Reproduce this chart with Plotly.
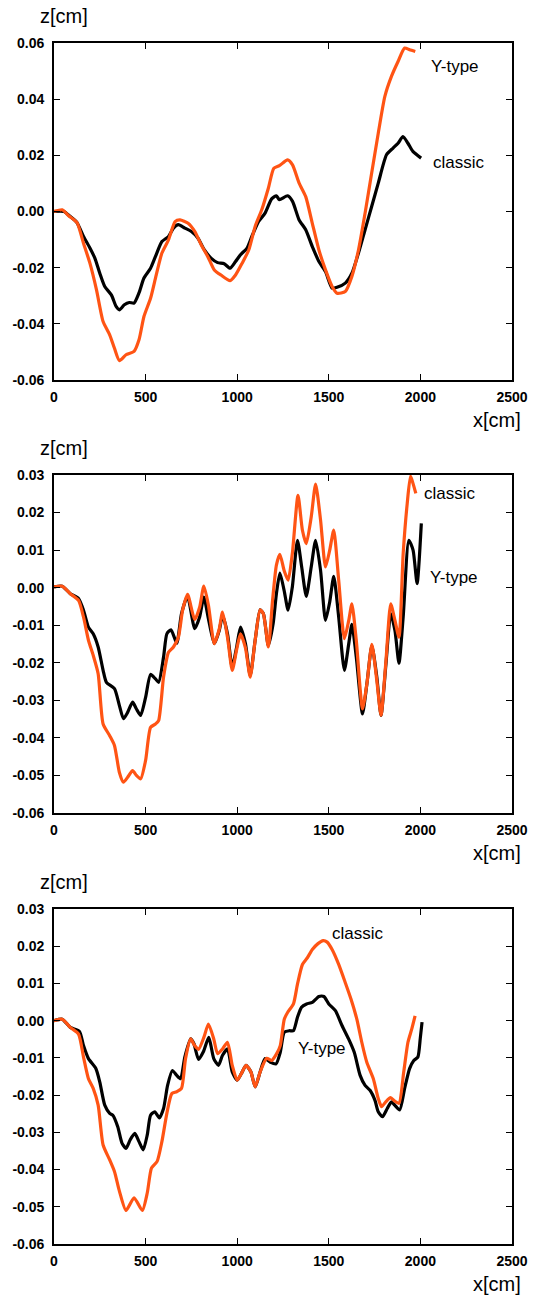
import plotly.graph_objects as go

# ---------------- data ----------------
x_tick_vals = [0, 500, 1000, 1500, 2000, 2500]
x_tick_text = ["0", "500", "1000", "1500", "2000", "2500"]
y1_tick_vals = [-0.06, -0.04, -0.02, 0.0, 0.02, 0.04, 0.06]
y1_tick_text = ["-0.06", "-0.04", "-0.02", "0.00", "0.02", "0.04", "0.06"]
y23_tick_vals = [-0.06, -0.05, -0.04, -0.03, -0.02, -0.01, 0.0, 0.01, 0.02, 0.03]
y23_tick_text = ["-0.06", "-0.05", "-0.04", "-0.03", "-0.02", "-0.01", "0.00", "0.01", "0.02", "0.03"]

# Panel 1: black = "classic", orange = "Y-type"
p1_black_x = [0, 54, 89, 125, 161, 196, 223, 250, 277, 313,
              339, 357, 384, 411, 437, 464, 491, 527, 554, 589,
              625, 652, 679, 714, 750, 786, 821, 857, 893, 929,
              961, 991, 1018, 1054, 1080, 1116, 1152, 1188, 1214, 1230,
              1275, 1302, 1338, 1374, 1410, 1446, 1482, 1518, 1545, 1590,
              1626, 1662, 1698, 1734, 1770, 1815, 1851, 1878, 1905, 1932,
              1959, 2004]
p1_black_z = [0, 0, -0.0018, -0.0039, -0.0089, -0.013, -0.0166, -0.022, -0.0267, -0.0297,
              -0.0338, -0.035, -0.0332, -0.0324, -0.0326, -0.029, -0.0237, -0.0202, -0.016, -0.0107,
              -0.0089, -0.0059, -0.0047, -0.0059, -0.0071, -0.0095, -0.0137, -0.0166, -0.0182, -0.0186,
              -0.0202, -0.0178, -0.0154, -0.013, -0.0089, -0.0036, -0.0006, 0.0045, 0.0056, 0.0042,
              0.0056, 0.0036, -0.003, -0.0065, -0.0125, -0.0178, -0.0214, -0.0273, -0.027, -0.0255,
              -0.022, -0.0148, -0.0065, 0.0018, 0.0101, 0.0202, 0.0226, 0.0243, 0.0267, 0.0243,
              0.0214, 0.019]
p1_orange_x = [0, 45, 80, 125, 161, 196, 232, 268, 304, 330,
               357, 393, 437, 464, 491, 527, 554, 589, 625, 661,
               688, 732, 768, 804, 839, 875, 911, 961, 991, 1027,
               1063, 1098, 1134, 1170, 1200, 1230, 1275, 1302, 1338, 1374,
               1410, 1446, 1482, 1518, 1545, 1590, 1626, 1662, 1698, 1734,
               1770, 1806, 1842, 1878, 1914, 1941, 1972]
p1_orange_z = [0, 0.0006, -0.0015, -0.0039, -0.0113, -0.0184, -0.0279, -0.0392, -0.0439, -0.0487,
               -0.0531, -0.051, -0.0498, -0.0457, -0.0374, -0.0309, -0.0237, -0.0148, -0.0101, -0.0036,
               -0.003, -0.0042, -0.0071, -0.0119, -0.016, -0.0208, -0.0226, -0.0246, -0.0226, -0.0184,
               -0.0137, -0.0053, 0.0006, 0.0083, 0.0154, 0.0163, 0.0184, 0.0166, 0.0101, 0.0053,
               -0.0042, -0.0137, -0.0208, -0.0267, -0.0291, -0.0285, -0.0231, -0.0137, -0.0006, 0.0137,
               0.0279, 0.041, 0.0481, 0.0534, 0.0582, 0.0576, 0.057]

# Panel 2: black = "Y-type", orange = "classic"
p2_black_x = [0, 45, 89, 134, 161, 188, 214, 241, 268, 286,
              330, 357, 379, 402, 429, 450, 473, 500, 527, 554,
              571, 598, 616, 639, 670, 696, 729, 768, 795, 818,
              843, 875, 902, 920, 947, 973, 997, 1018, 1045, 1071,
              1098, 1125, 1143, 1170, 1196, 1214, 1233, 1256, 1278, 1301,
              1329, 1352, 1377, 1404, 1428, 1455, 1482, 1505, 1527, 1554,
              1585, 1609, 1626, 1650, 1684, 1708, 1735, 1762, 1785, 1812,
              1838, 1861, 1883, 1906, 1937, 1960, 1982, 2005]
p2_black_z = [0.0002, 0.0004, -0.0016, -0.0029, -0.006, -0.0105, -0.0123, -0.0158, -0.022, -0.0252,
              -0.0269, -0.0314, -0.0349, -0.0332, -0.0305, -0.0323, -0.034, -0.0292, -0.0231, -0.0243,
              -0.0252, -0.0185, -0.0123, -0.0112, -0.0148, -0.0069, -0.0023, -0.0109, -0.0078, -0.0025,
              -0.0083, -0.0149, -0.0114, -0.0074, -0.0123, -0.0212, -0.0158, -0.0105, -0.0149, -0.0234,
              -0.014, -0.0059, -0.0069, -0.0154, -0.0096, -0.0016, 0.0039, -0.0007, -0.006, 0.0002,
              0.0126, 0.0055, -0.0023, 0.0055, 0.0126, 0.0046, -0.0087, -0.0038, 0.003, -0.0078,
              -0.022, -0.0149, -0.0098, -0.0185, -0.0336, -0.0256, -0.0154, -0.0238, -0.034, -0.0203,
              -0.0069, -0.0114, -0.0201, -0.0078, 0.0126, 0.01, 0.0011, 0.0171]
p2_orange_x = [0, 45, 89, 134, 161, 188, 214, 241, 268, 304,
               330, 357, 379, 402, 429, 450, 473, 500, 527, 554,
               571, 598, 625, 652, 679, 702, 729, 768, 795, 818,
               843, 875, 902, 920, 947, 973, 997, 1018, 1045, 1071,
               1098, 1125, 1143, 1170, 1193, 1214, 1233, 1256, 1278, 1301,
               1332, 1356, 1377, 1404, 1428, 1455, 1482, 1505, 1527, 1554,
               1585, 1609, 1626, 1650, 1684, 1708, 1735, 1762, 1785, 1812,
               1838, 1861, 1883, 1906, 1928, 1946, 1960, 1975]
p2_orange_z = [0.0002, 0.0004, -0.0016, -0.0034, -0.0078, -0.014, -0.018, -0.0229, -0.0363, -0.0394,
               -0.042, -0.0492, -0.0518, -0.0505, -0.0487, -0.05, -0.0509, -0.046, -0.0372, -0.0363,
               -0.0354, -0.0238, -0.0172, -0.0158, -0.0132, -0.006, -0.0018, -0.0085, -0.0052, 0.0004,
               -0.0047, -0.0149, -0.011, -0.0065, -0.0132, -0.022, -0.0165, -0.0123, -0.016, -0.0238,
               -0.014, -0.0059, -0.007, -0.0158, -0.0034, 0.006, 0.0089, 0.0046, 0.002, 0.0091,
               0.0246, 0.0153, 0.0117, 0.0188, 0.0276, 0.018, 0.0055, 0.01, 0.0153, 0.002,
               -0.0136, -0.0087, -0.0043, -0.014, -0.0323, -0.0256, -0.0151, -0.0247, -0.034, -0.0194,
               -0.0043, -0.0087, -0.0132, 0.0091, 0.0224, 0.0297, 0.0277, 0.0251]

# Panel 3: black = "Y-type", orange = "classic"
p3_black_x = [0, 45, 89, 139, 161, 188, 229, 250, 277, 304,
              321, 348, 371, 393, 416, 441, 464, 487, 509, 527,
              550, 575, 598, 620, 646, 670, 691, 714, 746, 764,
              789, 816, 845, 872, 898, 920, 947, 973, 1000, 1023,
              1048, 1075, 1098, 1125, 1152, 1179, 1212, 1235, 1257, 1284,
              1307, 1329, 1351, 1379, 1410, 1446, 1473, 1500, 1536, 1572,
              1608, 1639, 1671, 1698, 1725, 1752, 1770, 1793, 1819, 1842,
              1860, 1887, 1914, 1941, 1964, 1986, 1999, 2009]
p3_black_z = [0, 0.0004, -0.0018, -0.0029, -0.0067, -0.0102, -0.0129, -0.0165, -0.0227, -0.0249,
              -0.0254, -0.0285, -0.0329, -0.0343, -0.032, -0.0303, -0.0325, -0.0347, -0.0307, -0.0254,
              -0.0245, -0.0261, -0.0236, -0.0174, -0.0134, -0.0147, -0.0156, -0.0098, -0.0049, -0.0062,
              -0.0104, -0.0083, -0.0045, -0.0102, -0.012, -0.0093, -0.0076, -0.0138, -0.016, -0.0142,
              -0.012, -0.0138, -0.0178, -0.0138, -0.0102, -0.0111, -0.0116, -0.0085, -0.0031, -0.0027,
              -0.0027, 0.0009, 0.0036, 0.0045, 0.0049, 0.0065, 0.0065, 0.0045, 0.0027, -0.0013,
              -0.0049, -0.0085, -0.0147, -0.0174, -0.0187, -0.0214, -0.0245, -0.0258, -0.0236, -0.0218,
              -0.0227, -0.024, -0.0182, -0.0129, -0.0107, -0.0098, -0.0049, -0.0004]
p3_orange_x = [0, 45, 89, 134, 161, 188, 214, 241, 268, 304,
               330, 357, 393, 437, 482, 509, 532, 563, 589, 616,
               643, 670, 696, 718, 746, 768, 789, 818, 843, 872,
               893, 920, 947, 973, 1000, 1023, 1048, 1075, 1098, 1125,
               1161, 1188, 1214, 1235, 1257, 1275, 1307, 1329, 1356, 1383,
               1410, 1441, 1469, 1491, 1518, 1554, 1590, 1621, 1653, 1680,
               1707, 1743, 1770, 1788, 1811, 1837, 1860, 1883, 1909, 1932,
               1953, 1971]
p3_orange_z = [0, 0.0004, -0.0018, -0.0036, -0.0098, -0.0156, -0.0182, -0.0227, -0.0334, -0.0374,
               -0.0405, -0.0458, -0.051, -0.0476, -0.051, -0.0463, -0.0396, -0.0378, -0.0325, -0.0249,
               -0.0196, -0.0191, -0.0182, -0.0102, -0.0049, -0.0067, -0.0077, -0.0045, -0.0009, -0.0049,
               -0.0089, -0.0076, -0.0058, -0.012, -0.016, -0.0142, -0.012, -0.0138, -0.0178, -0.0138,
               -0.0101, -0.0107, -0.009, -0.0067, 0.0004, 0.0022, 0.0045, 0.0098, 0.0151, 0.0169,
               0.0191, 0.0207, 0.0215, 0.0211, 0.0191, 0.0151, 0.0102, 0.0058, 0.0004, -0.0058,
               -0.0111, -0.0156, -0.0209, -0.0231, -0.0218, -0.0207, -0.0216, -0.0222, -0.0138, -0.0058,
               -0.0022, 0.0013]

# curve labels: (panel, text, x, z)
curve_labels = [
    (1, "Y-type", 2190, 0.0515),
    (1, "classic", 2210, 0.0176),
    (2, "classic", 2160, 0.0252),
    (2, "Y-type", 2185, 0.0028),
    (3, "classic", 1660, 0.0233),
    (3, "Y-type", 1462, -0.0076),
]

# ---------------- layout ----------------
W, H = 540, 1298
ML, MR, MT, MB = 54, 21, 43, 54
plot_h = H - MT - MB
panels_px = [(43, 380), (475, 813), (909, 1244)]


def py2paper(py):
    return (H - MB - py) / plot_h


BLACK = "#000000"
ORANGE = "#ff5414"
FONT = "Liberation Sans, Arial, Helvetica, sans-serif"

panels = [
    (p1_black_x, p1_black_z, p1_orange_x, p1_orange_z, [-0.06, 0.06], y1_tick_vals, y1_tick_text),
    (p2_black_x, p2_black_z, p2_orange_x, p2_orange_z, [-0.06, 0.03], y23_tick_vals, y23_tick_text),
    (p3_black_x, p3_black_z, p3_orange_x, p3_orange_z, [-0.06, 0.03], y23_tick_vals, y23_tick_text),
]

fig = go.Figure()
annotations = []
for i, (bx, bz, ox, oz, yr, ytv, ytt) in enumerate(panels):
    n = i + 1
    xa = "x" if n == 1 else f"x{n}"
    ya = "y" if n == 1 else f"y{n}"
    assert len(bx) == len(bz) and len(ox) == len(oz)
    fig.add_trace(go.Scatter(x=bx, y=bz, mode="lines", xaxis=xa, yaxis=ya,
                             line=dict(color=BLACK, width=3.2, shape="spline", smoothing=0.6),
                             showlegend=False, hoverinfo="skip"))
    fig.add_trace(go.Scatter(x=ox, y=oz, mode="lines", xaxis=xa, yaxis=ya,
                             line=dict(color=ORANGE, width=3.2, shape="spline", smoothing=0.6),
                             showlegend=False, hoverinfo="skip"))
    top, bot = panels_px[i]
    dom = [py2paper(bot), py2paper(top)]
    axis_common = dict(showline=True, linecolor="black", linewidth=1.8, mirror="ticks",
                       ticks="inside", ticklen=6, tickwidth=1.2, tickcolor="black",
                       showgrid=False, zeroline=False,
                       tickfont=dict(family=FONT, size=14, color="black", weight="bold"))
    xkey = "xaxis" if n == 1 else f"xaxis{n}"
    ykey = "yaxis" if n == 1 else f"yaxis{n}"
    fig.layout[xkey] = dict(axis_common, domain=[0, 1], anchor=ya, range=[0, 2500],
                            tickmode="array", tickvals=x_tick_vals, ticktext=x_tick_text,
                            ticklabelstandoff=3)
    fig.layout[ykey] = dict(axis_common, domain=dom, anchor=xa, range=yr,
                            tickmode="array", tickvals=ytv, ticktext=ytt,
                            ticklabelstandoff=5)
    # axis titles
    annotations.append(dict(text="z[cm]", xref="paper", yref="paper",
                            x=(38 - ML) / (W - ML - MR), y=py2paper(top - 27),
                            xanchor="left", yanchor="middle", showarrow=False,
                            font=dict(family=FONT, size=20, color="black")))
    annotations.append(dict(text="x[cm]", xref="paper", yref="paper",
                            x=(530 - ML) / (W - ML - MR), y=py2paper(bot + 40),
                            xanchor="right", yanchor="middle", showarrow=False,
                            font=dict(family=FONT, size=20, color="black")))

for (pn, txt, lx, lz) in curve_labels:
    xa = "x" if pn == 1 else f"x{pn}"
    ya = "y" if pn == 1 else f"y{pn}"
    annotations.append(dict(text=txt, xref=xa, yref=ya, x=lx, y=lz,
                            xanchor="center", yanchor="middle", showarrow=False,
                            font=dict(family=FONT, size=17, color="black")))

fig.update_layout(width=W, height=H, margin=dict(l=ML, r=MR, t=MT, b=MB),
                  paper_bgcolor="white", plot_bgcolor="white",
                  annotations=annotations, showlegend=False)

fig.write_html("out.html")
